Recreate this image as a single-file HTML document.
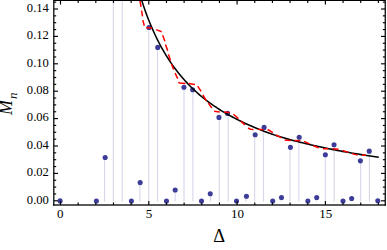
<!DOCTYPE html>
<html><head><meta charset="utf-8"><title>plot</title>
<style>
html,body{margin:0;padding:0;background:#fff;}
body{width:387px;height:250px;overflow:hidden;font-family:"Liberation Serif",serif;}
svg{display:block;position:absolute;left:0;top:0;}
</style></head><body>
<svg width="387" height="250" viewBox="0 0 387 250">
<rect width="387" height="250" fill="#fff"/>
<defs><clipPath id="c"><rect x="53.80" y="0.45" width="331.45" height="204.55"/></clipPath></defs>
<g clip-path="url(#c)">
<g stroke="#d8d8ec" stroke-width="1.15" fill="none">
<line x1="104.55" y1="157.4" x2="104.55" y2="201.6"/>
<line x1="113.38" y1="-5.0" x2="113.38" y2="201.6"/>
<line x1="122.21" y1="-5.0" x2="122.21" y2="201.6"/>
<line x1="139.87" y1="182.6" x2="139.87" y2="201.6"/>
<line x1="148.70" y1="27.4" x2="148.70" y2="201.6"/>
<line x1="157.53" y1="47.4" x2="157.53" y2="201.6"/>
<line x1="175.19" y1="190.0" x2="175.19" y2="201.6"/>
<line x1="184.02" y1="87.3" x2="184.02" y2="201.6"/>
<line x1="192.85" y1="89.8" x2="192.85" y2="201.6"/>
<line x1="210.51" y1="193.8" x2="210.51" y2="201.6"/>
<line x1="219.34" y1="117.4" x2="219.34" y2="201.6"/>
<line x1="228.17" y1="113.4" x2="228.17" y2="201.6"/>
<line x1="245.83" y1="196.2" x2="245.83" y2="201.6"/>
<line x1="254.66" y1="134.8" x2="254.66" y2="201.6"/>
<line x1="263.49" y1="127.4" x2="263.49" y2="201.6"/>
<line x1="281.15" y1="197.5" x2="281.15" y2="201.6"/>
<line x1="289.98" y1="147.3" x2="289.98" y2="201.6"/>
<line x1="298.81" y1="137.2" x2="298.81" y2="201.6"/>
<line x1="316.47" y1="197.5" x2="316.47" y2="201.6"/>
<line x1="325.30" y1="154.7" x2="325.30" y2="201.6"/>
<line x1="334.13" y1="144.8" x2="334.13" y2="201.6"/>
<line x1="351.79" y1="198.5" x2="351.79" y2="201.6"/>
<line x1="360.62" y1="160.8" x2="360.62" y2="201.6"/>
<line x1="369.45" y1="151.1" x2="369.45" y2="201.6"/>
</g>
<g fill="#3d3d99">
<circle cx="60.10" cy="200.90" r="2.55"/>
<circle cx="96.40" cy="200.95" r="2.55"/>
<circle cx="105.17" cy="157.45" r="2.55"/>
<circle cx="131.40" cy="200.95" r="2.55"/>
<circle cx="140.16" cy="182.60" r="2.55"/>
<circle cx="149.00" cy="27.45" r="2.55"/>
<circle cx="157.74" cy="47.40" r="2.55"/>
<circle cx="166.50" cy="200.95" r="2.55"/>
<circle cx="175.17" cy="190.03" r="2.55"/>
<circle cx="183.95" cy="87.30" r="2.55"/>
<circle cx="192.65" cy="89.80" r="2.55"/>
<circle cx="201.50" cy="200.95" r="2.55"/>
<circle cx="210.25" cy="193.76" r="2.55"/>
<circle cx="218.95" cy="117.40" r="2.55"/>
<circle cx="227.60" cy="113.40" r="2.55"/>
<circle cx="236.50" cy="201.00" r="2.55"/>
<circle cx="246.45" cy="196.20" r="2.55"/>
<circle cx="255.16" cy="134.80" r="2.55"/>
<circle cx="264.10" cy="127.40" r="2.55"/>
<circle cx="272.70" cy="200.95" r="2.55"/>
<circle cx="281.50" cy="197.50" r="2.55"/>
<circle cx="290.43" cy="147.35" r="2.55"/>
<circle cx="299.20" cy="137.25" r="2.55"/>
<circle cx="307.85" cy="200.95" r="2.55"/>
<circle cx="316.70" cy="197.50" r="2.55"/>
<circle cx="325.37" cy="154.70" r="2.55"/>
<circle cx="334.05" cy="144.75" r="2.55"/>
<circle cx="343.00" cy="200.95" r="2.55"/>
<circle cx="351.67" cy="198.47" r="2.55"/>
<circle cx="360.40" cy="160.85" r="2.55"/>
<circle cx="369.25" cy="151.13" r="2.55"/>
<circle cx="377.80" cy="200.75" r="2.55"/>
</g>
<path d="M138.08,-11.67 L139.81,-5.75 L141.54,-0.17 L143.28,5.12 L145.01,10.14 L146.74,14.90 L148.47,19.43 L150.20,23.73 L151.93,27.84 L153.67,31.76 L155.40,35.50 L157.13,39.07 L158.86,42.49 L160.59,45.77 L162.33,48.92 L164.06,51.93 L165.79,54.83 L167.52,57.61 L169.25,60.29 L170.98,62.87 L172.72,65.36 L174.45,67.75 L176.18,70.06 L177.91,72.29 L179.64,74.45 L181.37,76.53 L183.11,78.54 L184.84,80.49 L186.57,82.38 L188.30,84.21 L190.03,85.98 L191.77,87.70 L193.50,89.36 L195.23,90.98 L196.96,92.55 L198.69,94.07 L200.42,95.56 L202.16,97.00 L203.89,98.40 L205.62,99.76 L207.35,101.09 L209.08,102.38 L210.82,103.64 L212.55,104.87 L214.28,106.06 L216.01,107.23 L217.74,108.37 L219.47,109.48 L221.21,110.56 L222.94,111.62 L224.67,112.65 L226.40,113.66 L228.13,114.65 L229.87,115.61 L231.60,116.55 L233.33,117.48 L235.06,118.38 L236.79,119.26 L238.52,120.13 L240.26,120.98 L241.99,121.81 L243.72,122.63 L245.45,123.43 L247.18,124.22 L248.92,124.99 L250.65,125.76 L252.38,126.50 L254.11,127.24 L255.84,127.97 L257.57,128.68 L259.31,129.38 L261.04,130.08 L262.77,130.75 L264.50,131.42 L266.23,132.07 L267.96,132.71 L269.70,133.33 L271.43,133.94 L273.16,134.53 L274.89,135.11 L276.62,135.67 L278.36,136.22 L280.09,136.75 L281.82,137.27 L283.55,137.78 L285.28,138.28 L287.01,138.76 L288.75,139.24 L290.48,139.71 L292.21,140.17 L293.94,140.63 L295.67,141.07 L297.41,141.52 L299.14,141.96 L300.87,142.39 L302.60,142.82 L304.33,143.24 L306.06,143.66 L307.80,144.08 L309.53,144.49 L311.26,144.90 L312.99,145.30 L314.72,145.69 L316.46,146.09 L318.19,146.47 L319.92,146.85 L321.65,147.23 L323.38,147.60 L325.11,147.97 L326.85,148.33 L328.58,148.68 L330.31,149.04 L332.04,149.38 L333.77,149.72 L335.51,150.06 L337.24,150.40 L338.97,150.72 L340.70,151.05 L342.43,151.37 L344.16,151.69 L345.90,152.00 L347.63,152.31 L349.36,152.61 L351.09,152.91 L352.82,153.21 L354.55,153.50 L356.29,153.79 L358.02,154.08 L359.75,154.36 L361.48,154.64 L363.21,154.92 L364.95,155.19 L366.68,155.46 L368.41,155.72 L370.14,155.99 L371.87,156.25 L373.60,156.51 L375.34,156.76 L377.07,157.01 L378.80,157.26" fill="none" stroke="#000" stroke-width="1.55"/>
<path d="M139.60,-1.00 L141.10,6.90 M141.55,10.70 L142.50,16.35 M142.80,20.10 L144.30,25.80 M146.20,27.70 L152.10,27.90 M156.20,29.60 L161.70,31.75 M162.70,35.30 L164.90,41.20 M165.50,44.60 L167.70,50.80 M168.40,54.20 L170.50,60.50 M171.45,63.90 L173.60,69.40 M175.10,73.20 L177.70,78.60 M178.60,82.00 L179.30,83.00 L185.40,83.60 M188.80,83.60 L195.00,84.40 M197.70,86.10 L201.10,91.30 M202.90,94.80 L206.40,100.80 M208.30,103.10 L211.90,108.00 M214.10,111.35 L219.75,112.00 M224.00,111.90 L229.70,112.40 M233.50,114.30 L238.40,118.60 M240.90,121.10 L244.90,124.90 M248.00,128.00 L250.50,129.20 L253.50,129.50 M257.90,129.30 L263.50,129.85 M267.70,129.50 L272.90,132.60 M275.90,134.80 L281.50,137.90 M284.60,139.90 L287.00,140.30 L290.90,140.50 M294.40,140.50 L300.40,140.80 M304.00,141.40 L309.60,143.90 M313.30,145.70 L318.90,147.85 M323.00,148.70 L328.20,148.85 M332.60,148.85 L338.50,149.30 M342.70,150.50 L348.30,152.40 M352.00,153.60 L357.60,155.10 M361.90,154.90 L365.90,155.30" fill="none" stroke="#ff0000" stroke-width="1.5" stroke-linejoin="round"/>
</g>
<g stroke="#000" fill="none" stroke-width="1.25">
<line x1="53.8" y1="0" x2="53.8" y2="205.625"/>
<line x1="385.25" y1="0" x2="385.25" y2="205.625"/>
<line x1="53.8" y1="0.45" x2="385.25" y2="0.45"/>
<rect x="53.175" y="204.36" width="332.7" height="1.28" fill="#000" stroke="none"/>
</g>
<g stroke="#000" fill="none" stroke-width="1.15">
<line x1="53.8" y1="200.80" x2="58.0" y2="200.80"/>
<line x1="385.25" y1="200.80" x2="381.05" y2="200.80"/>
<line x1="53.8" y1="193.95" x2="56.199999999999996" y2="193.95"/>
<line x1="385.25" y1="193.95" x2="382.85" y2="193.95"/>
<line x1="53.8" y1="187.10" x2="56.199999999999996" y2="187.10"/>
<line x1="385.25" y1="187.10" x2="382.85" y2="187.10"/>
<line x1="53.8" y1="180.25" x2="56.199999999999996" y2="180.25"/>
<line x1="385.25" y1="180.25" x2="382.85" y2="180.25"/>
<line x1="53.8" y1="173.40" x2="58.0" y2="173.40"/>
<line x1="385.25" y1="173.40" x2="381.05" y2="173.40"/>
<line x1="53.8" y1="166.55" x2="56.199999999999996" y2="166.55"/>
<line x1="385.25" y1="166.55" x2="382.85" y2="166.55"/>
<line x1="53.8" y1="159.70" x2="56.199999999999996" y2="159.70"/>
<line x1="385.25" y1="159.70" x2="382.85" y2="159.70"/>
<line x1="53.8" y1="152.85" x2="56.199999999999996" y2="152.85"/>
<line x1="385.25" y1="152.85" x2="382.85" y2="152.85"/>
<line x1="53.8" y1="146.00" x2="58.0" y2="146.00"/>
<line x1="385.25" y1="146.00" x2="381.05" y2="146.00"/>
<line x1="53.8" y1="139.15" x2="56.199999999999996" y2="139.15"/>
<line x1="385.25" y1="139.15" x2="382.85" y2="139.15"/>
<line x1="53.8" y1="132.30" x2="56.199999999999996" y2="132.30"/>
<line x1="385.25" y1="132.30" x2="382.85" y2="132.30"/>
<line x1="53.8" y1="125.45" x2="56.199999999999996" y2="125.45"/>
<line x1="385.25" y1="125.45" x2="382.85" y2="125.45"/>
<line x1="53.8" y1="118.60" x2="58.0" y2="118.60"/>
<line x1="385.25" y1="118.60" x2="381.05" y2="118.60"/>
<line x1="53.8" y1="111.75" x2="56.199999999999996" y2="111.75"/>
<line x1="385.25" y1="111.75" x2="382.85" y2="111.75"/>
<line x1="53.8" y1="104.90" x2="56.199999999999996" y2="104.90"/>
<line x1="385.25" y1="104.90" x2="382.85" y2="104.90"/>
<line x1="53.8" y1="98.05" x2="56.199999999999996" y2="98.05"/>
<line x1="385.25" y1="98.05" x2="382.85" y2="98.05"/>
<line x1="53.8" y1="91.20" x2="58.0" y2="91.20"/>
<line x1="385.25" y1="91.20" x2="381.05" y2="91.20"/>
<line x1="53.8" y1="84.35" x2="56.199999999999996" y2="84.35"/>
<line x1="385.25" y1="84.35" x2="382.85" y2="84.35"/>
<line x1="53.8" y1="77.50" x2="56.199999999999996" y2="77.50"/>
<line x1="385.25" y1="77.50" x2="382.85" y2="77.50"/>
<line x1="53.8" y1="70.65" x2="56.199999999999996" y2="70.65"/>
<line x1="385.25" y1="70.65" x2="382.85" y2="70.65"/>
<line x1="53.8" y1="63.80" x2="58.0" y2="63.80"/>
<line x1="385.25" y1="63.80" x2="381.05" y2="63.80"/>
<line x1="53.8" y1="56.95" x2="56.199999999999996" y2="56.95"/>
<line x1="385.25" y1="56.95" x2="382.85" y2="56.95"/>
<line x1="53.8" y1="50.10" x2="56.199999999999996" y2="50.10"/>
<line x1="385.25" y1="50.10" x2="382.85" y2="50.10"/>
<line x1="53.8" y1="43.25" x2="56.199999999999996" y2="43.25"/>
<line x1="385.25" y1="43.25" x2="382.85" y2="43.25"/>
<line x1="53.8" y1="36.40" x2="58.0" y2="36.40"/>
<line x1="385.25" y1="36.40" x2="381.05" y2="36.40"/>
<line x1="53.8" y1="29.55" x2="56.199999999999996" y2="29.55"/>
<line x1="385.25" y1="29.55" x2="382.85" y2="29.55"/>
<line x1="53.8" y1="22.70" x2="56.199999999999996" y2="22.70"/>
<line x1="385.25" y1="22.70" x2="382.85" y2="22.70"/>
<line x1="53.8" y1="15.85" x2="56.199999999999996" y2="15.85"/>
<line x1="385.25" y1="15.85" x2="382.85" y2="15.85"/>
<line x1="53.8" y1="9.00" x2="58.0" y2="9.00"/>
<line x1="385.25" y1="9.00" x2="381.05" y2="9.00"/>
<line x1="53.8" y1="2.15" x2="56.199999999999996" y2="2.15"/>
<line x1="385.25" y1="2.15" x2="382.85" y2="2.15"/>
<line x1="60.50" y1="205.0" x2="60.50" y2="201.0"/>
<line x1="60.50" y1="0.45" x2="60.50" y2="4.55"/>
<line x1="78.16" y1="205.0" x2="78.16" y2="202.4"/>
<line x1="78.16" y1="0.45" x2="78.16" y2="3.0"/>
<line x1="95.82" y1="205.0" x2="95.82" y2="202.4"/>
<line x1="95.82" y1="0.45" x2="95.82" y2="3.0"/>
<line x1="113.48" y1="205.0" x2="113.48" y2="202.4"/>
<line x1="113.48" y1="0.45" x2="113.48" y2="3.0"/>
<line x1="131.14" y1="205.0" x2="131.14" y2="202.4"/>
<line x1="131.14" y1="0.45" x2="131.14" y2="3.0"/>
<line x1="148.80" y1="205.0" x2="148.80" y2="201.0"/>
<line x1="148.80" y1="0.45" x2="148.80" y2="4.55"/>
<line x1="166.46" y1="205.0" x2="166.46" y2="202.4"/>
<line x1="166.46" y1="0.45" x2="166.46" y2="3.0"/>
<line x1="184.12" y1="205.0" x2="184.12" y2="202.4"/>
<line x1="184.12" y1="0.45" x2="184.12" y2="3.0"/>
<line x1="201.78" y1="205.0" x2="201.78" y2="202.4"/>
<line x1="201.78" y1="0.45" x2="201.78" y2="3.0"/>
<line x1="219.44" y1="205.0" x2="219.44" y2="202.4"/>
<line x1="219.44" y1="0.45" x2="219.44" y2="3.0"/>
<line x1="237.10" y1="205.0" x2="237.10" y2="201.0"/>
<line x1="237.10" y1="0.45" x2="237.10" y2="4.55"/>
<line x1="254.76" y1="205.0" x2="254.76" y2="202.4"/>
<line x1="254.76" y1="0.45" x2="254.76" y2="3.0"/>
<line x1="272.42" y1="205.0" x2="272.42" y2="202.4"/>
<line x1="272.42" y1="0.45" x2="272.42" y2="3.0"/>
<line x1="290.08" y1="205.0" x2="290.08" y2="202.4"/>
<line x1="290.08" y1="0.45" x2="290.08" y2="3.0"/>
<line x1="307.74" y1="205.0" x2="307.74" y2="202.4"/>
<line x1="307.74" y1="0.45" x2="307.74" y2="3.0"/>
<line x1="325.40" y1="205.0" x2="325.40" y2="201.0"/>
<line x1="325.40" y1="0.45" x2="325.40" y2="4.55"/>
<line x1="343.06" y1="205.0" x2="343.06" y2="202.4"/>
<line x1="343.06" y1="0.45" x2="343.06" y2="3.0"/>
<line x1="360.72" y1="205.0" x2="360.72" y2="202.4"/>
<line x1="360.72" y1="0.45" x2="360.72" y2="3.0"/>
<line x1="378.38" y1="205.0" x2="378.38" y2="202.4"/>
<line x1="378.38" y1="0.45" x2="378.38" y2="3.0"/>
</g>
<g fill="#000" font-family="'Liberation Serif', serif">
<g font-size="12.6" text-anchor="end">
<text x="48.90" y="203.80">0.00</text>
<text x="48.90" y="176.34">0.02</text>
<text x="48.90" y="148.88">0.04</text>
<text x="48.90" y="121.42">0.06</text>
<text x="48.90" y="93.96">0.08</text>
<text x="48.90" y="66.50">0.10</text>
<text x="48.90" y="39.04">0.12</text>
<text x="48.90" y="11.58">0.14</text>
</g>
<g font-size="13" text-anchor="middle">
<text x="60.20" y="217.80">0</text>
<text x="148.95" y="217.80">5</text>
<text x="237.55" y="217.80">10</text>
<text x="325.80" y="217.80">15</text>
</g>
<text x="219.20" y="242.00" font-size="18.4" text-anchor="middle">Δ</text>
<text transform="translate(12.30,115.00) rotate(-90)" font-size="18" font-style="italic">M</text>
<text transform="translate(17.20,98.90) rotate(-90)" font-size="13" font-style="italic">n</text>
</g>
</svg></body></html>
